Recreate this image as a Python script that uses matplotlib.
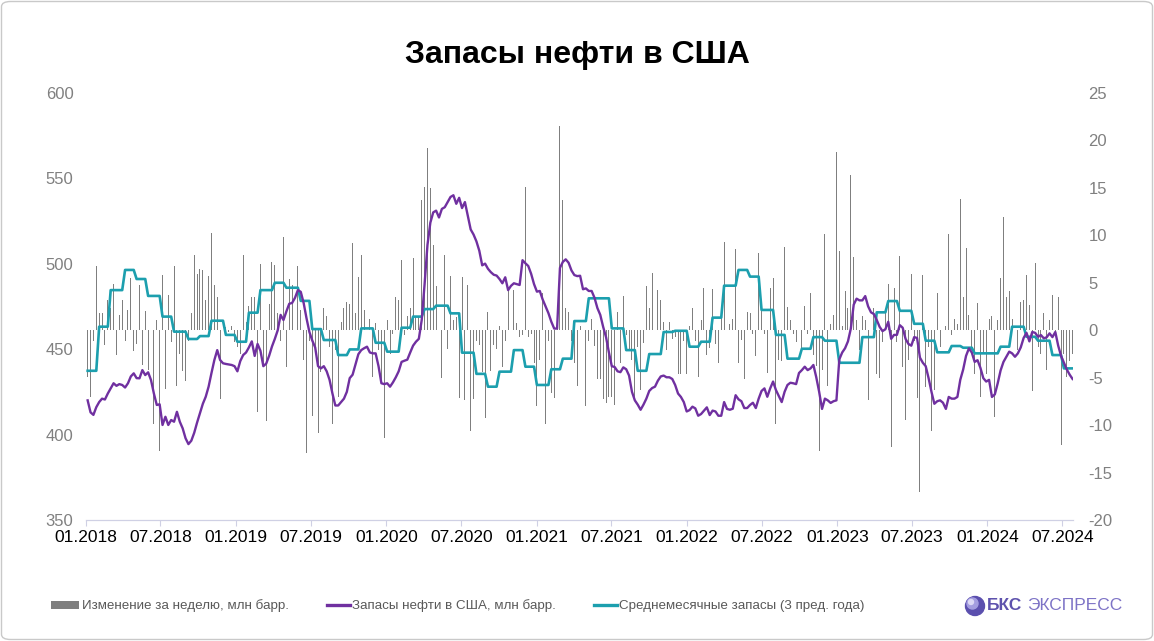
import matplotlib
matplotlib.use('Agg')
import matplotlib.pyplot as plt
import matplotlib.dates as mdates
from matplotlib import font_manager
from matplotlib.patches import Patch, FancyBboxPatch, Ellipse, Rectangle
from matplotlib.lines import Line2D
from matplotlib.legend_handler import HandlerPatch
import pandas as pd

plt.rcParams['font.family'] = ['Liberation Sans', 'DejaVu Sans']
plt.rcParams['axes.unicode_minus'] = False

# недельные данные, пятницы с 05.01.2018
first_week = '2018-01-05'

# запасы нефти в США, млн барр.
stocks_2018 = [420, 413, 411.5, 416, 419, 421, 420.5, 424, 427, 430, 428.5, 429.5, 429,
               427.5, 430, 434, 435.8, 433, 432.9, 437.7, 434.8, 436.4, 431.9, 424, 417.3,
               417.7, 405.6, 410.4, 405.6, 408.5, 407.5, 413.3, 407.5, 403.6, 397.8, 394.4,
               396.4, 401, 407, 412.4, 418, 422.1, 428, 436, 443.6, 449.4, 443.6, 441.7,
               441.3, 441, 440.7, 440]
stocks_2019 = [437, 443, 446.5, 448, 451, 454.5, 446, 453, 449, 440, 441.5, 446, 451.5,
               456, 461, 470, 467, 472, 476.5, 477, 480, 484.5, 483.5, 477, 468, 460, 455,
               451, 440, 438.7, 440, 437, 432, 424, 417, 417, 419, 421, 425, 433, 435, 441,
               447, 449.4, 450.5, 451.4, 448, 447.5, 447.5, 440, 430, 429.5]
stocks_2020 = [430, 428, 430.5, 433.5, 437, 442.5, 443.2, 443.8, 448, 452, 454.3, 456,
               467, 488, 511, 524, 530, 531, 527, 532, 533, 536, 539, 540, 535, 538.5,
               532.5, 536, 528, 520, 517, 513, 507.5, 499, 500, 497, 495, 493.5, 493, 491,
               488.5, 492, 484.5, 487, 488.5, 488, 487.5, 502, 500.2, 498.6, 494, 488]
stocks_2021 = [483.6, 484, 479, 475, 471, 466, 462, 462, 497.5, 501, 502.5, 500.5, 496,
               493.3, 492.7, 492.9, 485, 485.5, 484, 484, 480, 474, 470, 463, 457, 448,
               440, 439.5, 437, 436.5, 439.3, 438.2, 434.5, 425, 420, 417.5, 414.5, 417.5,
               421, 425.5, 427.2, 428, 431.5, 434, 434.5, 433.5, 433.5, 432.5, 429, 424,
               422, 419]
stocks_2022 = [413.5, 414.3, 416.3, 415.3, 411, 412, 414, 415.9, 411.4, 414, 413.5, 411,
               411, 419, 415, 414.5, 415.1, 423, 420.6, 419.5, 415.5, 415.5, 417.3, 418.6,
               415.5, 421, 425.5, 427, 422.1, 427, 431, 426, 422.5, 419, 425, 429, 430.3,
               430, 429.5, 436, 437.7, 439.7, 437.7, 438.7, 440.7, 433.5, 425, 415, 421,
               420, 418.5, 419.5]
stocks_2023 = [420, 444, 448, 450.5, 454.5, 462, 476, 479.5, 478.5, 478.5, 481, 475, 471.5,
               470.5, 467, 463, 460.5, 461.6, 466, 456, 458.3, 458.3, 464, 462.5, 456, 453,
               452, 457, 456.5, 445, 442, 440, 433, 425, 418, 419.5, 420, 418.6, 415, 422,
               421, 421, 422, 432, 438, 446, 450.4, 448, 442.5, 443.5, 439, 433]
stocks_2024 = [431, 432, 422, 423.5, 430, 437.5, 442.5, 445.5, 448.5, 447.5, 445.5, 447.5,
               451, 456.5, 459.5, 454.5, 460, 459.5, 457.2, 458.2, 456.3, 456.9, 459.2, 457,
               460, 452, 446, 442, 438, 435, 432.5]

# изменение за неделю, млн барр.
change_2018 = [-4.9, -7.0, -1.1, 6.8, 1.8, 1.8, -1.6, 3.2, 2.3, 4.9, -2.6, 1.6, 3.2, -1.1,
               2.1, 5.5, -2.2, -1.5, 4.7, -3.7, 2.0, -4.2, -5.3, -9.9, 1.1, -12.7, 5.8,
               -6.2, 3.7, -1.3, 6.8, -5.9, -2.5, -4.3, -5.4, -1.1, 1.8, 7.9, 5.9, 6.4, 6.3,
               3.2, 5.7, 10.2, 4.8, 3.5, -7.3, -1.1, 0.3, -0.2, 0.4, -1.3]
change_2019 = [-1.8, -2.5, 7.9, 0.9, 2.5, 3.5, 3.5, -8.6, 7.0, -3.9, -9.6, 2.7, 7.2, 6.9,
               1.8, -1.1, 9.8, -3.9, 5.4, 4.7, 1.1, 6.8, 2.1, -3.1, -12.9, -1.1, -9.1, -2.5,
               -10.8, -4.4, 2.3, 1.5, -1.8, -9.9, -2.1, -7.0, 0.9, 2.3, 3.0, 2.8, 9.2, 1.8,
               5.6, 7.9, 2.1, 1.2, 1.2, -4.9, 0.7, -2.1, -5.5, -11.4]
change_2020 = [1.1, -2.5, -0.4, 3.5, 3.2, 7.4, -0.5, 1.5, 2.3, 7.6, 1.4, 1.4, 13.7, 15.1,
               19.2, 15.0, 9.0, 4.6, -0.7, -5.0, 7.9, -2.0, 5.7, 1.1, 1.4, -7.2, 5.6, -7.4,
               4.8, -10.6, -7.3, -1.1, -1.6, -4.4, -9.3, 1.9, -4.3, -1.6, -2.0, 0.4, -3.9,
               -1.1, 4.2, -7.9, 4.2, 0.7, -0.7, -0.5, 15.1, -0.7, -0.4, -3.5]
change_2021 = [-8.0, -3.2, 3.9, -9.9, -1.1, -6.6, -7.2, 0.3, 21.5, 13.7, 2.3, 1.9, -1.1,
               -3.5, -5.9, 0.4, -0.5, -8.0, -1.1, 1.2, -1.7, -5.1, -5.2, -7.3, -7.7, -7.0,
               -7.0, -7.9, 1.9, -3.5, 3.6, -0.5, -2.1, -3.2, -7.0, -1.8, -6.3, -1.4, 4.6,
               2.3, 6.0, -0.2, 4.2, 3.2, 0.9, -2.1, 0.9, -0.9, -0.7, -4.6, -4.6, -1.1]
change_2022 = [-4.6, 0.4, 2.3, -1.1, -4.9, 1.1, 4.4, -2.6, -1.9, 4.3, -1.5, -3.5, 2.3, 9.3,
               -10.1, 0.6, 1.2, 8.5, -3.5, -1.0, -5.1, 1.9, 1.8, -0.4, -2.7, 8.1, 3.2,
               -0.4, -4.5, 4.4, 5.5, -9.9, -3.2, -3.3, 8.7, 2.4, 1.1, -0.4, -1.3, 9.8, -2.1,
               2.5, -0.4, 3.9, -2.6, -3.8, -12.7, -4.2, 10.1, -5.9, 0.6, 1.6]
change_2023 = [18.8, 8.3, 0.4, 4.1, 2.3, 16.3, 7.7, 1.1, -2.1, 1.5, 1.1, -7.4, -3.8, 2.3,
               -4.6, -5.0, -1.3, 1.8, 4.9, -12.3, 4.4, -1.3, 7.8, -3.9, -9.5, -3.2, 5.9,
               -1.1, -7.1, -17.0, 5.8, -6.0, -1.8, -10.6, -6.3, 3.9, -1.8, -1.2, 0.4, 10.1,
               -0.5, 1.2, 0.6, 13.8, 3.5, 8.6, 1.6, -2.1, -4.6, 2.9, -7.0, -2.5]
change_2024 = [-4.6, 1.2, 1.5, -9.2, 1.1, 5.5, 11.9, 3.5, 4.1, 1.2, -1.3, -2.1, 3.0, 3.2,
               5.8, 2.6, -6.4, 7.1, -1.8, -2.5, 1.8, -4.2, 1.1, 3.7, -0.4, 3.5, -12.1, -2.5,
               -4.9, -3.3, -2.5]

# среднемесячные запасы за 3 предыдущих года (янв..дек)
avg3y_2018 = [437.3, 463.1, 484.5, 496.3, 491.0, 481.1, 469.0, 460.2, 455.9, 457.6, 466.6, 458.3]
avg3y_2019 = [454.3, 471.3, 484.5, 488.8, 485.9, 478.2, 461.7, 455.3, 446.5, 449.8, 462.1, 453.7]
avg3y_2020 = [448.5, 462.5, 469.0, 473.4, 475.4, 470.9, 447.9, 435.5, 428.0, 436.8, 449.4, 439.7]
avg3y_2021 = [429.0, 438.2, 444.4, 466.4, 479.7, 479.7, 462.1, 449.4, 437.3, 447.1, 460.0, 460.7]
avg3y_2022 = [451.4, 454.3, 468.4, 487.1, 496.3, 492.4, 472.9, 458.3, 444.4, 450.2, 457.0, 454.9]
avg3y_2023 = [442.0, 442.0, 457.0, 471.5, 478.1, 472.4, 464.8, 454.9, 448.1, 451.8, 450.8, 447.5]
avg3y_2024 = [447.5, 451.4, 463.1, 457.2, 454.9, 446.5, 438.7]

stocks = stocks_2018 + stocks_2019 + stocks_2020 + stocks_2021 + stocks_2022 + stocks_2023 + stocks_2024
change = change_2018 + change_2019 + change_2020 + change_2021 + change_2022 + change_2023 + change_2024
avg3y = avg3y_2018 + avg3y_2019 + avg3y_2020 + avg3y_2021 + avg3y_2022 + avg3y_2023 + avg3y_2024

dates = pd.date_range(first_week, periods=len(stocks), freq='7D')
# значение месяца для каждой недели
avg3y_weekly = [avg3y[(d.year - 2018) * 12 + d.month - 1] for d in dates]

c_bar = '#7f7f7f'
c_purple = '#7030a0'
c_teal = '#1c9fae'
c_axis = '#cfd0e4'

W, H = 1154, 641
fig = plt.figure(figsize=(W / 100, H / 100), dpi=100)

ax = fig.add_axes([86 / W, 1 - 520 / H, (1073 - 86) / W, (520 - 92.7) / H])
ax.bar(dates, change, width=2.3, color=c_bar, zorder=2)
ax.set_ylim(-20, 25)
ax.set_yticks(range(-20, 26, 5))

ax2 = ax.twinx()
ax2.plot(dates, avg3y_weekly, color=c_teal, lw=1.9)
ax2.plot(dates, stocks, color=c_purple, lw=1.7)
ax2.set_ylim(350, 600)
ax2.set_yticks(range(350, 601, 50))

# twinx переносит метки, поэтому стороны задаём после него
ax.yaxis.tick_right()
ax2.yaxis.tick_left()
ax.tick_params(axis='y', length=0, labelsize=12, labelcolor='#808080', pad=11)
ax2.tick_params(axis='y', length=0, labelsize=12, labelcolor='#808080', pad=9)

ax.set_xlim(pd.Timestamp('2018-01-01'), pd.Timestamp('2024-07-27'))
ax.xaxis.set_major_locator(mdates.MonthLocator(bymonth=[1, 7]))
ax.xaxis.set_major_formatter(mdates.DateFormatter('%m.%Y'))
ax.tick_params(axis='x', length=4, color=c_axis, labelsize=12.5, labelcolor='black', pad=3)

for a in (ax, ax2):
    for s in ('top', 'left', 'right'):
        a.spines[s].set_visible(False)
    a.spines['bottom'].set_color(c_axis)

fig.text(0.5, 1 - 55 / H, 'Запасы нефти в США', ha='center', va='center',
         fontsize=23, fontweight='bold')


# серый прямоугольник в легенде чуть шире линий
def wide_patch(legend, orig_handle, xdescent, ydescent, width, height, fontsize):
    return Rectangle((-xdescent - 4, -ydescent), width + 4, height)


# легенда
names = {f.name for f in font_manager.fontManager.ttflist}
if 'Liberation Sans Narrow' in names:
    leg_prop = {'family': ['Liberation Sans Narrow', 'DejaVu Sans'], 'size': 10.5}
else:
    leg_prop = {'family': ['Liberation Sans', 'DejaVu Sans'], 'size': 9.6}
handles = [Patch(facecolor=c_bar, edgecolor='none'),
           Line2D([], [], color=c_purple, lw=2.4),
           Line2D([], [], color=c_teal, lw=2.4)]
labels = ['Изменение за неделю, млн барр.',
          'Запасы нефти в США, млн барр.',
          'Среднемесячные запасы (3 пред. года)']
fig.legend(handles, labels, loc='center left', bbox_to_anchor=(56.5 / W, 1 - 606 / H),
           ncol=3, frameon=False, prop=leg_prop, labelcolor='#595959',
           handlelength=1.7, handleheight=0.55, handletextpad=0.2,
           columnspacing=2.85, borderpad=0, borderaxespad=0,
           handler_map={Patch: HandlerPatch(patch_func=wide_patch)})

# логотип
ly = 1 - 606 / H
fig.add_artist(Ellipse((975 / W, ly), 19 / W, 19 / H, transform=fig.transFigure,
                       color='#5b4fae', zorder=5))
fig.add_artist(Ellipse((972.5 / W, ly + 2.5 / H), 11 / W, 11 / H, transform=fig.transFigure,
                       color='#a49de0', zorder=6))
fig.add_artist(Ellipse((971 / W, ly + 4 / H), 5 / W, 5 / H, transform=fig.transFigure,
                       color='#dcd8f5', zorder=7))
fig.text(987 / W, ly, 'БКС', fontsize=12.5, fontweight='bold', color='#5e52ad',
         va='center', ha='left')
fig.text(1027 / W, ly, 'ЭКСПРЕСС', fontsize=12.5, color='#7d73c6', va='center', ha='left')

# рамка
fig.add_artist(FancyBboxPatch((1.5 / W, 1.5 / H), 1 - 3 / W, 1 - 3 / H,
                              boxstyle='round,pad=0,rounding_size=0.008',
                              transform=fig.transFigure, fill=False,
                              ec='#c9c9c9', lw=1))

fig.savefig('out.png', dpi=100)
